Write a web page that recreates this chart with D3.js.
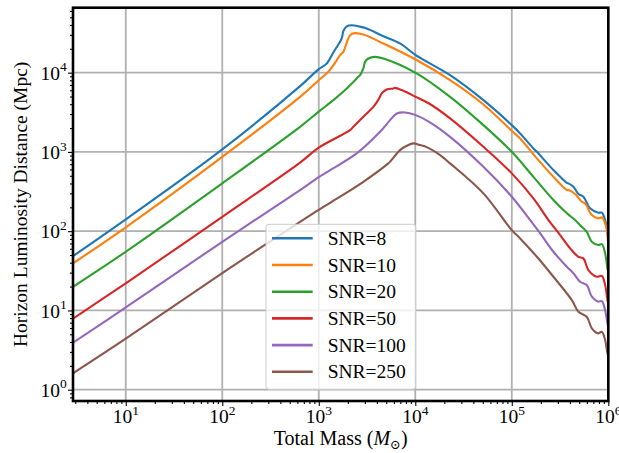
<!DOCTYPE html>
<html>
<head>
<meta charset="utf-8">
<script src="https://cdn.jsdelivr.net/npm/d3@7"></script>
<style>
  body { margin: 0; background: #fff; }
  text { font-family: "Liberation Serif", "DejaVu Serif", serif; fill: #000; }
</style>
</head>
<body>
<div class="canvas"></div>
<script>
// values (mass in solar masses, distance in Mpc)
const mass8  = [2.84, 10, 100, 640, 1000, 1211, 1416, 1596, 1730, 1798, 1950, 2197, 2677, 3140, 4670, 6950, 10100, 22950, 50800, 1.0e5, 1.22e5, 1.675e5, 1.82e5, 2.7e5, 3.72e5, 3.86e5, 4.35e5, 4.9e5, 5.52e5, 6.48e5, 7.89e5, 8.57e5, 9.27e5, 1e6];
const dist8  = [48.5, 141, 1075, 6760, 11070, 13060, 18000, 22700, 27000, 33500, 38500, 39700, 38020, 36070, 28840, 23350, 16630, 9290, 4500, 2178, 1710, 1107, 1003, 590, 407, 401, 363, 294, 272, 194, 171, 171, 138, 84];

const mass10 = [2.84, 10, 100, 640, 1000, 1260, 1538, 1662, 1798, 1950, 2110, 2376, 2897, 4670, 10100, 22950, 50800, 1e5, 1.22e5, 1.82e5, 2.7e5, 3.72e5, 3.86e5, 4.53e5, 5.31e5, 5.75e5, 6.75e5, 7.89e5, 8.57e5, 9.49e5, 1e6];
const dist10 = [39.3, 112, 867, 4955, 8040, 10300, 14400, 16630, 18300, 24000, 29700, 31500, 30200, 23350, 14660, 8040, 3970, 1845, 1480, 828, 485, 330, 330, 294, 235, 224, 160, 145, 149, 114, 61];

const mass20 = [2.84, 10, 100, 640, 1000, 1416, 1950, 2282, 2564, 2677, 2897, 3017, 3265, 3830, 4670, 10100, 22950, 50800, 1e5, 1.675e5, 2.7e5, 3.72e5, 4.53e5, 5.1e5, 5.98e5, 6.75e5, 7.89e5, 8.57e5, 9.27e5, 9.79e5, 1e6];
const dist20 = [19.9, 55, 401, 2074, 3223, 4500, 6320, 7650, 8850, 9290, 11300, 13680, 15100, 15820, 15100, 9940, 4955, 2178, 1003, 485, 247, 168, 138, 119, 98, 73.5, 66.8, 68.7, 52.5, 34, 30.5];

const mass50 = [2.84, 10, 100, 640, 1000, 2110, 2282, 3140, 3679, 4120, 4494, 4670, 5058, 5926, 6140, 7530, 10100, 13900, 22950, 50800, 1e5, 1.675e5, 2.4e5, 3.17e5, 4.02e5, 4.9e5, 5.52e5, 6.22e5, 7.6e5, 8.57e5, 9.27e5, 9.79e5, 1e6];
const dist50 = [7.86, 22, 152, 733, 1133, 1884, 2074, 3055, 3706, 4500, 5470, 5730, 6140, 6320, 6430, 5900, 4955, 4080, 2645, 1159, 536, 259, 138, 89.3, 60.7, 47.5, 45.4, 32.3, 26.6, 27.2, 20.9, 13.5, 12];

const mass100 = [2.84, 10, 100, 640, 1000, 1300, 2470, 4310, 5480, 6430, 7830, 10100, 13900, 22950, 50800, 1e5, 1.55e5, 1.97e5, 2.7e5, 3.72e5, 4.35e5, 5.1e5, 5.98e5, 6.75e5, 7.89e5, 8.57e5, 9.27e5, 9.79e5, 1e6];
const dist100 = [3.92, 10.9, 73.5, 330, 481, 586, 957, 1792, 2518, 3055, 3148, 2911, 2399, 1550, 649, 272, 138, 93.8, 55, 35.6, 29.4, 23, 20.9, 14.9, 12.9, 13.1, 10.1, 6.88, 6.18];

const mass250 = [2.84, 10, 100, 640, 1000, 1309, 2897, 5256, 5477, 6950, 8160, 9550, 11220, 13150, 18070, 22950, 50800, 1e5, 1.22e5, 1.82e5, 2.7e5, 4.19e5, 4.9e5, 5.98e5, 6.75e5, 7.89e5, 8.57e5, 9.27e5, 9.79e5, 1e6];
const dist250 = [1.61, 4.4, 29.6, 131, 186, 228, 420, 716, 750, 1054, 1194, 1280, 1219, 1150, 912, 716, 300, 103, 81, 47.5, 26.6, 13.5, 9.63, 8.33, 5.95, 5.14, 5.39, 4.24, 2.88, 2.66];

const snrLabels = ["SNR=8", "SNR=10", "SNR=20", "SNR=50", "SNR=100", "SNR=250"];
const colors = ["#1f77b4", "#ff7f0e", "#2ca02c", "#d62728", "#9467bd", "#8c564b"];
const xTickExp = [1, 2, 3, 4, 5, 6];
const yTickExp = [0, 1, 2, 3, 4];

const series = [
  [mass8, dist8], [mass10, dist10], [mass20, dist20],
  [mass50, dist50], [mass100, dist100], [mass250, dist250]
];

const svg = d3.select('.canvas')
  .append('svg')
  .attr('width', 619)
  .attr('height', 453);

const pLeft = 73, pRight = 608.3, pTop = 7.7, pBottom = 401;

const x = d3.scaleLog().domain([2.84, 1e6]).range([pLeft, pRight]);
const y = d3.scaleLog().domain([0.72, 66000]).range([pBottom, pTop]);

const xMajor = xTickExp.map(e => Math.pow(10, e));
const yMajor = yTickExp.map(e => Math.pow(10, e));
function minors(lo, hi) {
  const out = [];
  for (let e = -1; e <= 6; e++)
    for (let k = 2; k <= 9; k++) {
      const v = k * Math.pow(10, e);
      if (v >= lo && v <= hi) out.push(v);
    }
  return out;
}
const xMinor = minors(2.84, 1e6);
const yMinor = minors(0.72, 66000);

// grid
const grid = svg.append('g').style('stroke', '#b0b0b0').style('stroke-width', 1.8);
grid.selectAll('.gx').data(xMajor).join('line')
  .attr('x1', d => x(d)).attr('x2', d => x(d))
  .attr('y1', pTop).attr('y2', pBottom);
grid.selectAll('.gy').data(yMajor).join('line')
  .attr('y1', d => y(d)).attr('y2', d => y(d))
  .attr('x1', pLeft).attr('x2', pRight);

// curves
svg.append('defs').append('clipPath').attr('id', 'plot')
  .append('rect').attr('x', pLeft).attr('y', pTop)
  .attr('width', pRight - pLeft).attr('height', pBottom - pTop);

const line = d3.line()
  .x(d => x(d[0]))
  .y(d => y(d[1]))
  .curve(d3.curveCatmullRom.alpha(0.5));

svg.append('g').attr('clip-path', 'url(#plot)')
  .selectAll('path').data(series).join('path')
  .attr('d', s => line(s[0].map((m, i) => [m, s[1][i]])))
  .style('fill', 'none')
  .style('stroke', (s, i) => colors[i])
  .style('stroke-width', 2.1)
  .style('stroke-linejoin', 'round');

// spines
svg.append('rect')
  .attr('x', pLeft).attr('y', pTop)
  .attr('width', pRight - pLeft).attr('height', pBottom - pTop)
  .style('fill', 'none').style('stroke', '#000').style('stroke-width', 2.6);

// axes ticks
function ticks(g) { g.select('.domain').remove(); g.selectAll('.tick line').style('stroke-width', 1.1); }
svg.append('g').attr('transform', `translate(0,${pBottom})`)
  .call(d3.axisBottom(x).tickValues(xMajor).tickSize(5).tickFormat(''))
  .call(ticks);
svg.append('g').attr('transform', `translate(0,${pBottom})`)
  .call(d3.axisBottom(x).tickValues(xMinor).tickSize(3).tickFormat(''))
  .call(ticks);
svg.append('g').attr('transform', `translate(${pLeft},0)`)
  .call(d3.axisLeft(y).tickValues(yMajor).tickSize(5).tickFormat(''))
  .call(ticks);
svg.append('g').attr('transform', `translate(${pLeft},0)`)
  .call(d3.axisLeft(y).tickValues(yMinor).tickSize(3).tickFormat(''))
  .call(ticks);

// tick labels 10^n
function power(sel) {
  sel.append('tspan').text('10');
  sel.append('tspan').attr('dy', -8.5).style('font-size', '13.5px').text(d => d);
}
svg.append('g').selectAll('text').data(xTickExp).join('text')
  .attr('x', d => x(Math.pow(10, d)))
  .attr('y', 423.3)
  .attr('text-anchor', 'middle')
  .style('font-size', '19.5px')
  .call(power);
svg.append('g').selectAll('text').data(yTickExp).join('text')
  .attr('x', 66.7)
  .attr('y', d => y(Math.pow(10, d)) + 7.3)
  .attr('text-anchor', 'end')
  .style('font-size', '19.5px')
  .call(power);

// axis labels
const xl = svg.append('text')
  .attr('x', (pLeft + pRight) / 2).attr('y', 445)
  .attr('text-anchor', 'middle')
  .style('font-size', '20px');
xl.append('tspan').text('Total Mass (');
xl.append('tspan').style('font-style', 'italic').text('M');
xl.append('tspan').attr('dy', 4).style('font-size', '13px').text('\u2299');
xl.append('tspan').attr('dy', -4).text(')');

svg.append('text')
  .attr('transform', `translate(27,${(pTop + pBottom) / 2}) rotate(-90)`)
  .attr('text-anchor', 'middle')
  .style('font-size', '19.5px')
  .text('Horizon Luminosity Distance (Mpc)');

// legend
const legend = svg.append('g');
legend.append('rect')
  .attr('x', 266).attr('y', 224.3)
  .attr('width', 149.7).attr('height', 165)
  .attr('rx', 3)
  .style('fill', '#fff').style('fill-opacity', 0.8)
  .style('stroke', '#cccccc').style('stroke-width', 1);
const row = legend.selectAll('g').data(snrLabels).join('g')
  .attr('transform', (d, i) => `translate(0,${238.3 + i * 26.7})`);
row.append('line')
  .attr('x1', 272).attr('x2', 312.7)
  .style('stroke', (d, i) => colors[i])
  .style('stroke-width', 2.6);
row.append('text')
  .attr('x', 327.7).attr('y', 6.5)
  .style('font-size', '19.5px')
  .text(d => d);
</script>
</body>
</html>
